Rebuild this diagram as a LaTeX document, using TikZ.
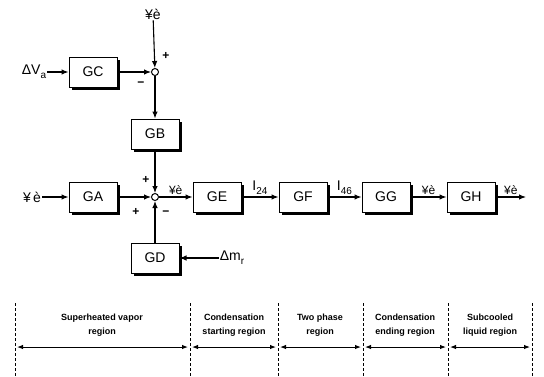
\documentclass[tikz,border=0pt]{standalone}
\usepackage{fontspec}
\setmainfont{Liberation Sans}
\usetikzlibrary{arrows.meta,shadows}

\tikzset{
  blk/.style={draw, line width=1pt, fill=white, minimum width=48pt, minimum height=30pt,
    font=\fontsize{14}{16}\selectfont,
    drop shadow={shadow xshift=2.5pt, shadow yshift=-2.5pt, opacity=1, fill=black}},
  sumpt/.style={draw, circle, line width=1pt, minimum size=7pt, inner sep=0pt},
  sig/.style={inner sep=1pt, font=\fontsize{14}{16}\selectfont},
  sgn/.style={inner sep=0pt, font=\bfseries\fontsize{12}{12}\selectfont},
  flow/.style={-{Latex[length=7pt,width=5.5pt]}, line width=1.1pt},
  zone/.style={densely dashed, line width=0.6pt},
  spanarr/.style={{Latex[length=6pt,width=4.5pt]}-{Latex[length=6pt,width=4.5pt]}, line width=1pt,
    shorten <=2pt, shorten >=2pt},
  zonetxt/.style={align=center, font=\bfseries\fontsize{9}{14}\selectfont}
}
\newcommand{\lowsub}[1]{\raisebox{-.55ex}{\fontsize{10}{10}\selectfont #1}}

\begin{document}
\begin{tikzpicture}[x=1pt,y=-1pt]
  \useasboundingbox (0,0) rectangle (544,376);
  % upper junction
  \node[sig] (dva) at (34,72) {ΔV\lowsub{a}};
  \node[blk] (gc) at (93,72) {GC};
  \node[sumpt] (s1) at (155,72) {};
  \node[sig] (th1) at (153,14) {¥è};
  \node[sgn] at (166,56) {+};
  \node[sgn] at (141,84) {−};
  \draw[flow] (dva) -- (gc);
  \draw[flow] (gc) -- (s1);
  \draw[flow] (th1) -- (s1);
  \node[blk] (gb) at (155,134) {GB};
  \draw[flow] (s1) -- (gb);
  % main row
  \node[sig] (th0) at (32,197) {¥\,è};
  \node[blk] (ga) at (93,197) {GA};
  \node[sumpt] (s2) at (155,197) {};
  \node[blk] (gd) at (155,258) {GD};
  \node[sig] (dmr) at (232,258) {Δm\lowsub{r}};
  \node[sgn] at (146,180) {+};
  \node[sgn] at (136,212) {+};
  \node[sgn] at (166,213) {−};
  \draw[flow] (th0) -- (ga);
  \draw[flow] (ga) -- (s2);
  \draw[flow] (gb) -- (s2);
  \draw[flow] (gd) -- (s2);
  \draw[flow] (dmr) -- (gd);
  \node[blk] (ge) at (217,197) {GE};
  \node[blk] (gf) at (303,197) {GF};
  \node[blk] (gg) at (386,197) {GG};
  \node[blk] (gh) at (471,197) {GH};
  \coordinate (hout) at (526,197);
  \draw[flow] (s2) -- node[sig, above=1pt] {\fontsize{12}{12}\selectfont ¥è} (ge);
  \draw[flow] (ge) -- node[sig, above=1pt] {I\lowsub{24}} (gf);
  \draw[flow] (gf) -- node[sig, above=1pt] {I\lowsub{46}} (gg);
  \draw[flow] (gg) -- node[sig, above=1pt] {\fontsize{12}{12}\selectfont ¥è} (gh);
  \draw[flow] (gh) -- node[sig, above=1pt] {\fontsize{12}{12}\selectfont ¥è} (hout);
  % regions
  \draw[zone] (15,303) -- (15,376);
  \draw[zone] (190,303) -- (190,376);
  \draw[zone] (278,303) -- (278,376);
  \draw[zone] (363,303) -- (363,376);
  \draw[zone] (448,303) -- (448,376);
  \draw[zone] (532,303) -- (532,376);
  \coordinate (b0) at (15,347);
  \coordinate (b1) at (190,347);
  \coordinate (b2) at (278,347);
  \coordinate (b3) at (363,347);
  \coordinate (b4) at (448,347);
  \coordinate (b5) at (532,347);
  \draw[spanarr] (b0) -- (b1);
  \draw[spanarr] (b1) -- (b2);
  \draw[spanarr] (b2) -- (b3);
  \draw[spanarr] (b3) -- (b4);
  \draw[spanarr] (b4) -- (b5);
  \node[zonetxt] (z1) at (102,325) {Superheated vapor\\region};
  \node[zonetxt] (z2) at (234,325) {Condensation\\starting region};
  \node[zonetxt] (z3) at (320,325) {Two phase\\region};
  \node[zonetxt] (z4) at (405,325) {Condensation\\ending region};
  \node[zonetxt] (z5) at (490,325) {Subcooled\\liquid region};
\end{tikzpicture}
\end{document}
